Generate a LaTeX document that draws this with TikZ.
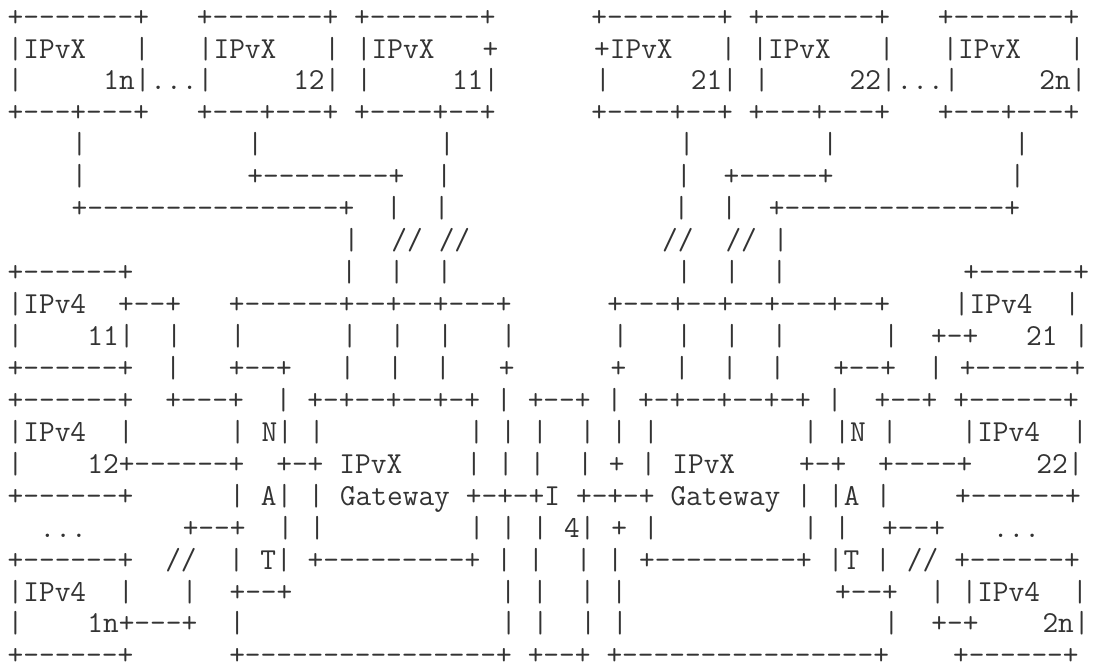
\documentclass[tikz,border=0pt]{standalone}
\usepackage{tikz}

\newlength{\colw}
\setlength{\colw}{16pt}
\newcommand{\gap}[1]{\hspace*{#1\colw}}
\newcommand{\asciifont}{\ttfamily\fontsize{30.476pt}{31.94pt}\selectfont}

\tikzset{asciirow/.style={anchor=base west, inner sep=0pt, outer sep=0pt, text depth=0pt, text=black!80, font=\asciifont}}

\begin{document}
\begin{tikzpicture}[x=1pt, y=-1pt]
        \useasboundingbox (0,0) rectangle (1097,666);

        % IPvX hosts, top
        \node[asciirow] (row1)  at (7.7, 26.10)  {+-------+\gap{3}+-------+\gap{1}+-------+\gap{6}+-------+\gap{1}+-------+\gap{3}+-------+};
        \node[asciirow] (row2)  at (7.7, 58.04)  {|IPvX\gap{3}|\gap{3}|IPvX\gap{3}|\gap{1}|IPvX\gap{3}+\gap{6}+IPvX\gap{3}|\gap{1}|IPvX\gap{3}|\gap{3}|IPvX\gap{3}|};
        \node[asciirow] (row3)  at (7.7, 89.98)  {|\gap{5}1n|...|\gap{5}12|\gap{1}|\gap{5}11|\gap{6}|\gap{5}21|\gap{1}|\gap{5}22|...|\gap{5}2n|};
        \node[asciirow] (row4)  at (7.7, 121.92) {+---+---+\gap{3}+---+---+\gap{1}+----+--+\gap{6}+----+--+\gap{1}+---+---+\gap{3}+---+---+};

        % links down to the gateways
        \node[asciirow] (row5)  at (7.7, 153.86) {\gap{4}|\gap{10}|\gap{11}|\gap{14}|\gap{8}|\gap{11}|};
        \node[asciirow] (row6)  at (7.7, 185.80) {\gap{4}|\gap{10}+--------+\gap{2}|\gap{14}|\gap{2}+-----+\gap{11}|};
        \node[asciirow] (row7)  at (7.7, 217.74) {\gap{4}+----------------+\gap{2}|\gap{2}|\gap{14}|\gap{2}|\gap{2}+--------------+};
        \node[asciirow] (row8)  at (7.7, 249.68) {\gap{21}|\gap{2}//\gap{1}//\gap{12}//\gap{2}//\gap{1}|};
        \node[asciirow] (row9)  at (7.7, 281.62) {+------+\gap{13}|\gap{2}|\gap{2}|\gap{14}|\gap{2}|\gap{2}|\gap{11}+------+};

        % gateways, NAT and I4
        \node[asciirow] (row10) at (7.7, 313.56) {|IPv4\gap{2}+--+\gap{3}+------+--+--+---+\gap{6}+---+--+--+---+--+\gap{4}|IPv4\gap{2}|};
        \node[asciirow] (row11) at (7.7, 345.50) {|\gap{4}11|\gap{2}|\gap{3}|\gap{6}|\gap{2}|\gap{2}|\gap{3}|\gap{6}|\gap{3}|\gap{2}|\gap{2}|\gap{6}|\gap{2}+-+\gap{3}21\gap{1}|};
        \node[asciirow] (row12) at (7.7, 377.44) {+------+\gap{2}|\gap{3}+--+\gap{3}|\gap{2}|\gap{2}|\gap{3}+\gap{6}+\gap{3}|\gap{2}|\gap{2}|\gap{3}+--+\gap{2}|\gap{1}+------+};
        \node[asciirow] (row13) at (7.7, 409.38) {+------+\gap{2}+---+\gap{2}|\gap{1}+-+--+--+-+\gap{1}|\gap{1}+--+\gap{1}|\gap{1}+-+--+--+-+\gap{1}|\gap{2}+--+\gap{1}+------+};
        \node[asciirow] (row14) at (7.7, 441.32) {|IPv4\gap{2}|\gap{6}|\gap{1}N|\gap{1}|\gap{9}|\gap{1}|\gap{1}|\gap{2}|\gap{1}|\gap{1}|\gap{9}|\gap{1}|N\gap{1}|\gap{4}|IPv4\gap{2}|};
        \node[asciirow] (row15) at (7.7, 473.26) {|\gap{4}12+------+\gap{2}+-+\gap{1}IPvX\gap{4}|\gap{1}|\gap{1}|\gap{2}|\gap{1}+\gap{1}|\gap{1}IPvX\gap{4}+-+\gap{2}+----+\gap{4}22|};
        \node[asciirow] (row16) at (7.7, 505.20) {+------+\gap{6}|\gap{1}A|\gap{1}|\gap{1}Gateway\gap{1}+-+-+I\gap{1}+-+-+\gap{1}Gateway\gap{1}|\gap{1}|A\gap{1}|\gap{4}+------+};
        \node[asciirow] (row17) at (7.7, 537.14) {\gap{2}...\gap{6}+--+\gap{2}|\gap{1}|\gap{9}|\gap{1}|\gap{1}|\gap{1}4|\gap{1}+\gap{1}|\gap{9}|\gap{1}|\gap{2}+--+\gap{3}...};
        \node[asciirow] (row18) at (7.7, 569.08) {+------+\gap{2}//\gap{2}|\gap{1}T|\gap{1}+---------+\gap{1}|\gap{1}|\gap{2}|\gap{1}|\gap{1}+---------+\gap{1}|T\gap{1}|\gap{1}//\gap{1}+------+};
        \node[asciirow] (row19) at (7.7, 601.02) {|IPv4\gap{2}|\gap{3}|\gap{2}+--+\gap{13}|\gap{1}|\gap{2}|\gap{1}|\gap{13}+--+\gap{2}|\gap{1}|IPv4\gap{2}|};
        \node[asciirow] (row20) at (7.7, 632.96) {|\gap{4}1n+---+\gap{2}|\gap{16}|\gap{1}|\gap{2}|\gap{1}|\gap{16}|\gap{2}+-+\gap{4}2n|};
        \node[asciirow] (row21) at (7.7, 664.90) {+------+\gap{6}+----------------+\gap{1}+--+\gap{1}+----------------+\gap{4}+------+};

    \end{tikzpicture}
\end{document}
